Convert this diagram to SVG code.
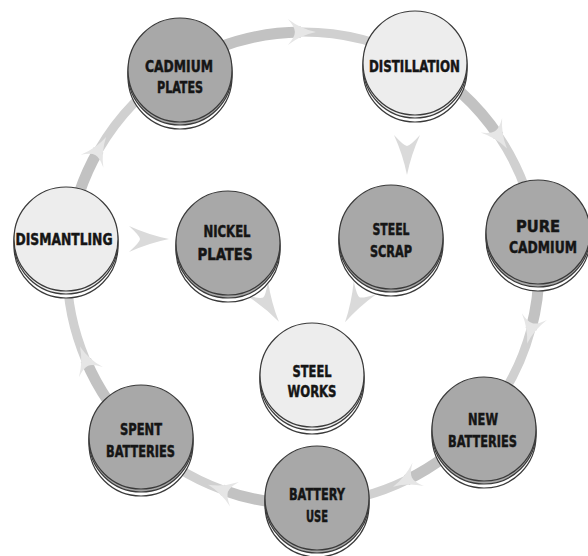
<svg xmlns="http://www.w3.org/2000/svg" width="588" height="556" viewBox="0 0 588 556">
<style>
.band{fill:none;stroke:#c2c2c2;stroke-width:11}
.band2{fill:none;stroke:#d0d0d0;stroke-width:9}
.head{fill:#e6e6e6}
.chev{fill:#dadada}
.rim{fill:#ffffff;stroke:#3a3a3a;stroke-width:1.2}
.dark{fill:#a8a8a8;stroke:#3a3a3a;stroke-width:1.2}
.light{fill:#ededed;stroke:#3a3a3a;stroke-width:1.2}
text{font-family:"DejaVu Sans Condensed","DejaVu Sans",sans-serif;font-weight:bold;font-size:15.5px;fill:#151515;stroke:#151515;stroke-width:0.45;text-anchor:middle}
</style>
<defs>
<path id="rh" d="M15,0 Q0,-3 -13,-13 Q-6,-5 -6,0 Q-6,5 -13,13 Q0,3 15,0 Z"/>
<path id="ch" d="M20,0 Q0,-4 -20,-13 Q-9,-3 -9,0 Q-9,3 -20,13 Q0,4 20,0 Z"/>
</defs>
<rect width="588" height="556" fill="#ffffff"/>
<g id="connectors">
<path class="band" d="M179.7,66.8 A236,236 0 0 1 300.9,32"/>
<path class="band2" d="M300.9,32 A236,236 0 0 1 415.6,60.6"/>
<use href="#rh" class="head" transform="translate(300.9,32) rotate(0)"/>
<path class="band" d="M415.6,60.6 A236,236 0 0 1 498.6,136"/>
<path class="band2" d="M498.6,136 A236,236 0 0 1 536,230.7"/>
<use href="#rh" class="head" transform="translate(498.6,136) rotate(56)"/>
<path class="band" d="M536,230.7 A236,236 0 0 1 531,329.1"/>
<path class="band2" d="M531,329.1 A236,236 0 0 1 479.8,424.4"/>
<use href="#rh" class="head" transform="translate(531,329.1) rotate(105)"/>
<path class="band" d="M479.8,424.4 A236,236 0 0 1 406.5,480.1"/>
<path class="band2" d="M406.5,480.1 A236,236 0 0 1 317.4,503.6"/>
<use href="#rh" class="head" transform="translate(406.5,480.1) rotate(154)"/>
<path class="band" d="M317.4,503.6 A236,236 0 0 1 222.3,489.8"/>
<path class="band2" d="M222.3,489.8 A236,236 0 0 1 139.1,437.8"/>
<use href="#rh" class="head" transform="translate(222.3,489.8) rotate(200)"/>
<path class="band" d="M139.1,437.8 A236,236 0 0 1 85.8,360.2"/>
<path class="band2" d="M85.8,360.2 A236,236 0 0 1 68.9,238.4"/>
<use href="#rh" class="head" transform="translate(85.8,360.2) rotate(247)"/>
<path class="band" d="M68.9,238.4 A236,236 0 0 1 98.6,150"/>
<path class="band2" d="M98.6,150 A236,236 0 0 1 179.7,66.8"/>
<use href="#rh" class="head" transform="translate(98.6,150) rotate(300)"/>
<use href="#ch" class="chev" transform="translate(149,239) rotate(0)"/>
<use href="#ch" class="chev" transform="translate(407,155) rotate(90)"/>
<use href="#ch" class="chev" transform="translate(268,305) rotate(57)"/>
<use href="#ch" class="chev" transform="translate(355,305) rotate(120)"/>
</g>
<g id="cadmium-plates">
<circle class="rim" cx="180" cy="77" r="52"/><circle class="dark" cx="180" cy="73" r="52"/><circle class="dark" cx="180" cy="70" r="52"/>
<text x="179" y="72" textLength="68" lengthAdjust="spacingAndGlyphs">CADMIUM</text>
<text x="180" y="93" textLength="46" lengthAdjust="spacingAndGlyphs">PLATES</text>
</g>
<g id="distillation">
<circle class="rim" cx="415" cy="70" r="52"/><circle class="light" cx="415" cy="66" r="52"/><circle class="light" cx="415" cy="63" r="52"/>
<text x="414.5" y="72" textLength="91" lengthAdjust="spacingAndGlyphs">DISTILLATION</text>
</g>
<g id="dismantling">
<circle class="rim" cx="66" cy="246" r="52"/><circle class="light" cx="66" cy="242" r="52"/><circle class="light" cx="66" cy="239" r="52"/>
<text x="64" y="245" textLength="97" lengthAdjust="spacingAndGlyphs">DISMANTLING</text>
</g>
<g id="nickel-plates">
<circle class="rim" cx="228" cy="250" r="52"/><circle class="dark" cx="228" cy="246" r="52"/><circle class="dark" cx="228" cy="243" r="52"/>
<text x="227" y="237" textLength="47" lengthAdjust="spacingAndGlyphs">NICKEL</text>
<text x="225" y="260" textLength="55" lengthAdjust="spacingAndGlyphs">PLATES</text>
</g>
<g id="steel-scrap">
<circle class="rim" cx="391" cy="244" r="52"/><circle class="dark" cx="391" cy="240" r="52"/><circle class="dark" cx="391" cy="237" r="52"/>
<text x="391" y="235" textLength="37" lengthAdjust="spacingAndGlyphs">STEEL</text>
<text x="391" y="257" textLength="42" lengthAdjust="spacingAndGlyphs">SCRAP</text>
</g>
<g id="pure-cadmium">
<circle class="rim" cx="538" cy="239" r="52"/><circle class="dark" cx="538" cy="235" r="52"/><circle class="dark" cx="538" cy="232" r="52"/>
<text x="538" y="232" textLength="44" lengthAdjust="spacingAndGlyphs">PURE</text>
<text x="543" y="253" textLength="68" lengthAdjust="spacingAndGlyphs">CADMIUM</text>
</g>
<g id="steel-works">
<circle class="rim" cx="312" cy="382" r="52"/><circle class="light" cx="312" cy="378" r="52"/><circle class="light" cx="312" cy="375" r="52"/>
<text x="312" y="377" textLength="39" lengthAdjust="spacingAndGlyphs">STEEL</text>
<text x="312" y="397" textLength="49" lengthAdjust="spacingAndGlyphs">WORKS</text>
</g>
<g id="spent-batteries">
<circle class="rim" cx="141" cy="444" r="52"/><circle class="dark" cx="141" cy="440" r="52"/><circle class="dark" cx="141" cy="437" r="52"/>
<text x="141" y="435" textLength="42" lengthAdjust="spacingAndGlyphs">SPENT</text>
<text x="140.5" y="457" textLength="69" lengthAdjust="spacingAndGlyphs">BATTERIES</text>
</g>
<g id="battery-use">
<circle class="rim" cx="317" cy="505" r="52"/><circle class="dark" cx="317" cy="501" r="52"/><circle class="dark" cx="317" cy="498" r="52"/>
<text x="317" y="500" textLength="56" lengthAdjust="spacingAndGlyphs">BATTERY</text>
<text x="317" y="522" textLength="22" lengthAdjust="spacingAndGlyphs">USE</text>
</g>
<g id="new-batteries">
<circle class="rim" cx="484" cy="436" r="52"/><circle class="dark" cx="484" cy="432" r="52"/><circle class="dark" cx="484" cy="429" r="52"/>
<text x="483" y="425" textLength="30" lengthAdjust="spacingAndGlyphs">NEW</text>
<text x="482.5" y="447" textLength="69" lengthAdjust="spacingAndGlyphs">BATTERIES</text>
</g>
</svg>
